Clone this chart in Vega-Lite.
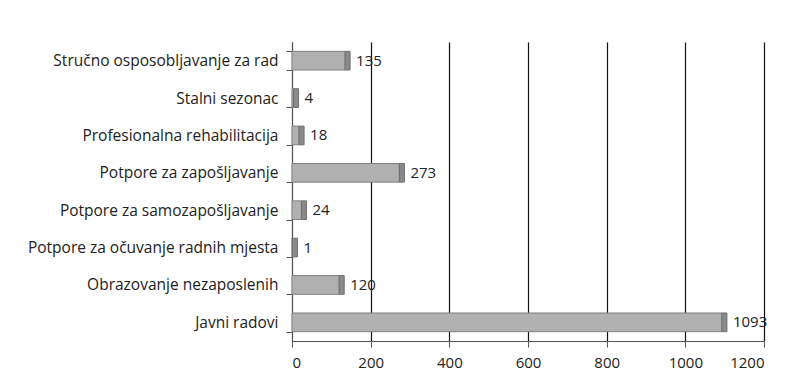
{
  "$schema": "https://vega.github.io/schema/vega-lite/v6.json",
  "width": 472,
  "height": 299,
  "autosize": {"type": "none"},
  "padding": {"left": 292, "top": 42, "right": 46, "bottom": 44},
  "background": "white",
  "data": {
    "values": [
      {"kategorija": "Stručno osposobljavanje za rad", "broj": 135},
      {"kategorija": "Stalni sezonac", "broj": 4},
      {"kategorija": "Profesionalna rehabilitacija", "broj": 18},
      {"kategorija": "Potpore za zapošljavanje", "broj": 273},
      {"kategorija": "Potpore za samozapošljavanje", "broj": 24},
      {"kategorija": "Potpore za očuvanje radnih mjesta", "broj": 1},
      {"kategorija": "Obrazovanje nezaposlenih", "broj": 120},
      {"kategorija": "Javni radovi", "broj": 1093}
    ]
  },
  "encoding": {
    "y": {
      "field": "kategorija",
      "type": "nominal",
      "sort": null,
      "scale": {"paddingInner": 0.5, "paddingOuter": 0.25},
      "axis": {
        "title": null,
        "labelFont": "Open Sans",
        "labelFontSize": 15.5,
        "labelColor": "#222222",
        "labelPadding": 8,
        "tickColor": "#555555",
        "tickSize": 6,
        "tickBand": "extent",
        "domainColor": "#555555",
        "grid": false,
        "labelLimit": 300
      }
    },
    "x": {
      "field": "broj",
      "type": "quantitative",
      "scale": {"domain": [0, 1200], "nice": false},
      "axis": {
        "title": null,
        "values": [0, 200, 400, 600, 800, 1000, 1200],
        "format": "d",
        "labelFont": "Open Sans",
        "labelFontSize": 15,
        "labelColor": "#222222",
        "labelPadding": 8,
        "tickColor": "#555555",
        "tickSize": 6,
        "domainColor": "#555555",
        "grid": true,
        "gridColor": "#111111",
        "gridWidth": 1.2
      }
    }
  },
  "layer": [
    {
      "mark": {"type": "bar", "fill": "#b0b0b0", "stroke": "#808080", "strokeWidth": 1}
    },
    {
      "mark": {"type": "bar", "fill": "#8a8a8a", "stroke": "#6f6f6f", "strokeWidth": 1, "x2Offset": 5},
      "encoding": {"x2": {"field": "broj"}}
    },
    {
      "mark": {"type": "text", "align": "left", "baseline": "middle", "dx": 11, "font": "Open Sans", "fontSize": 15, "color": "#222222"},
      "encoding": {"text": {"field": "broj", "type": "quantitative"}}
    }
  ],
  "config": {"view": {"stroke": null}}
}
